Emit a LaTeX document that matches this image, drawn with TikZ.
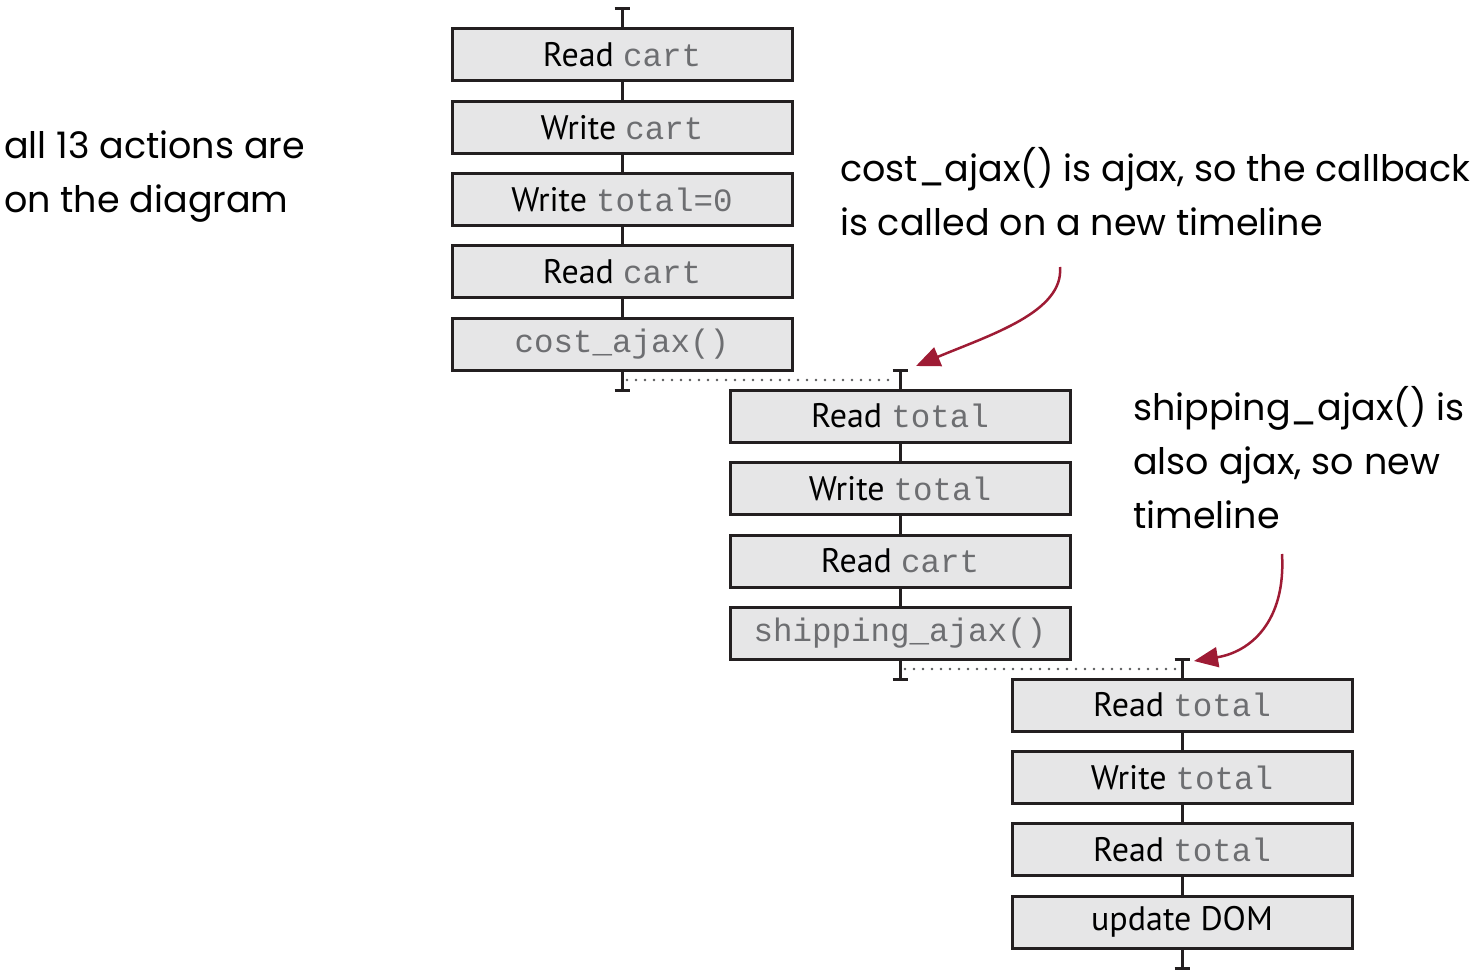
\documentclass[tikz,border=0pt]{standalone}
\usepackage{fontspec}
\setmainfont{PT Sans}
\setmonofont{Liberation Mono}
\newfontfamily\handfont{Poppins}
\usetikzlibrary{arrows.meta}
\definecolor{boxfill}{HTML}{E6E6E7}
\definecolor{edge}{HTML}{231F20}
\definecolor{codegrey}{HTML}{6D6E71}
\definecolor{dotgrey}{HTML}{58595B}
\definecolor{arrowred}{HTML}{9E1B34}
\newcommand{\cd}[1]{{\color{codegrey}\fontsize{32.5}{34}\selectfont\ttfamily #1}}
\begin{document}
\begin{tikzpicture}[x=1pt,y=-1pt,
  act/.style={draw=edge, line width=3pt, fill=boxfill, minimum width=340pt, minimum height=52pt, inner sep=0pt, font=\fontsize{34}{36}\selectfont},
  wire/.style={draw=edge, line width=3pt},
  capbar/.style={draw=edge, line width=3pt},
  waitline/.style={draw=dotgrey, line width=2.6pt, line cap=round, dash pattern=on 0pt off 9pt},
  note/.style={anchor=base west, align=left, inner sep=0pt, font=\handfont\fontsize{36.5}{54}\selectfont},
  callout/.style={draw=arrowred, line width=2.5pt, -{Triangle[length=24pt,width=20pt]}}]
\useasboundingbox (0,0) rectangle (1472,976);
% timeline 1
\node[act] (a1) at (622,55) {Read \cd{cart}};
\node[act] (a2) at (622,127.5) {Write \cd{cart}};
\node[act] (a3) at (622,200) {Write \cd{total=0}};
\node[act] (a4) at (622,272) {Read \cd{cart}};
\node[act] (a5) at (622,344) {\cd{cost\_ajax()}};
% timeline 2
\node[act] (b1) at (900,416) {Read \cd{total}};
\node[act] (b2) at (900,488.5) {Write \cd{total}};
\node[act] (b3) at (900,561) {Read \cd{cart}};
\node[act] (b4) at (900,633) {\cd{shipping\_ajax()}};
% timeline 3
\node[act] (c1) at (1182,705) {Read \cd{total}};
\node[act] (c2) at (1182,777.5) {Write \cd{total}};
\node[act] (c3) at (1182,849.5) {Read \cd{total}};
\node[act] (c4) at (1182,922) {update DOM};
% tick coordinates
\coordinate (a0) at (622,9);
\coordinate (am) at (622,380);
\coordinate (ae) at (622,390);
\coordinate (b0) at (900,370);
\coordinate (bm) at (900,380);
\coordinate (bme) at (900,669);
\coordinate (be) at (900,679);
\coordinate (c0) at (1182,659);
\coordinate (cm) at (1182,669);
\coordinate (ce) at (1182,968);
% wires
\draw[wire] (a0) -- (a1.north);
\draw[wire] (a1.south) -- (a2.north);
\draw[wire] (a2.south) -- (a3.north);
\draw[wire] (a3.south) -- (a4.north);
\draw[wire] (a4.south) -- (a5.north);
\draw[wire] (a5.south) -- (ae);
\draw[wire] (b0) -- (b1.north);
\draw[wire] (b1.south) -- (b2.north);
\draw[wire] (b2.south) -- (b3.north);
\draw[wire] (b3.south) -- (b4.north);
\draw[wire] (b4.south) -- (be);
\draw[wire] (c0) -- (c1.north);
\draw[wire] (c1.south) -- (c2.north);
\draw[wire] (c2.south) -- (c3.north);
\draw[wire] (c3.south) -- (c4.north);
\draw[wire] (c4.south) -- (ce);
% cap bars
\foreach \p in {a0,ae,b0,be,c0,ce}{
  \draw[capbar] ([xshift=-7.5pt]\p) -- ([xshift=7.5pt]\p);
}
% waiting dotted lines
\draw[waitline] ([xshift=5pt]am) -- ([xshift=-5pt]bm);
\draw[waitline] ([xshift=5pt]bme) -- ([xshift=-5pt]cm);
% annotations (anchor = baseline of last line)
\node[note] (n1) at (4,213) {all 13 actions are\\on the diagram};
\node[note] (n2) at (840,236) {cost\_ajax() is ajax, so the callback\\is called on a new timeline};
\node[note] (n3) at (1133,528) {shipping\_ajax() is\\also ajax, so new\\timeline};
\coordinate (s1) at (1060,267);
\coordinate (e1) at (916,366);
\coordinate (s2) at (1282,554);
\coordinate (e2) at (1194,661);
\draw[callout] (s1) .. controls (1064,312) and (990,335) .. (e1);
\draw[callout] (s2) .. controls (1286,622) and (1250,652) .. (e2);
\end{tikzpicture}
\end{document}
